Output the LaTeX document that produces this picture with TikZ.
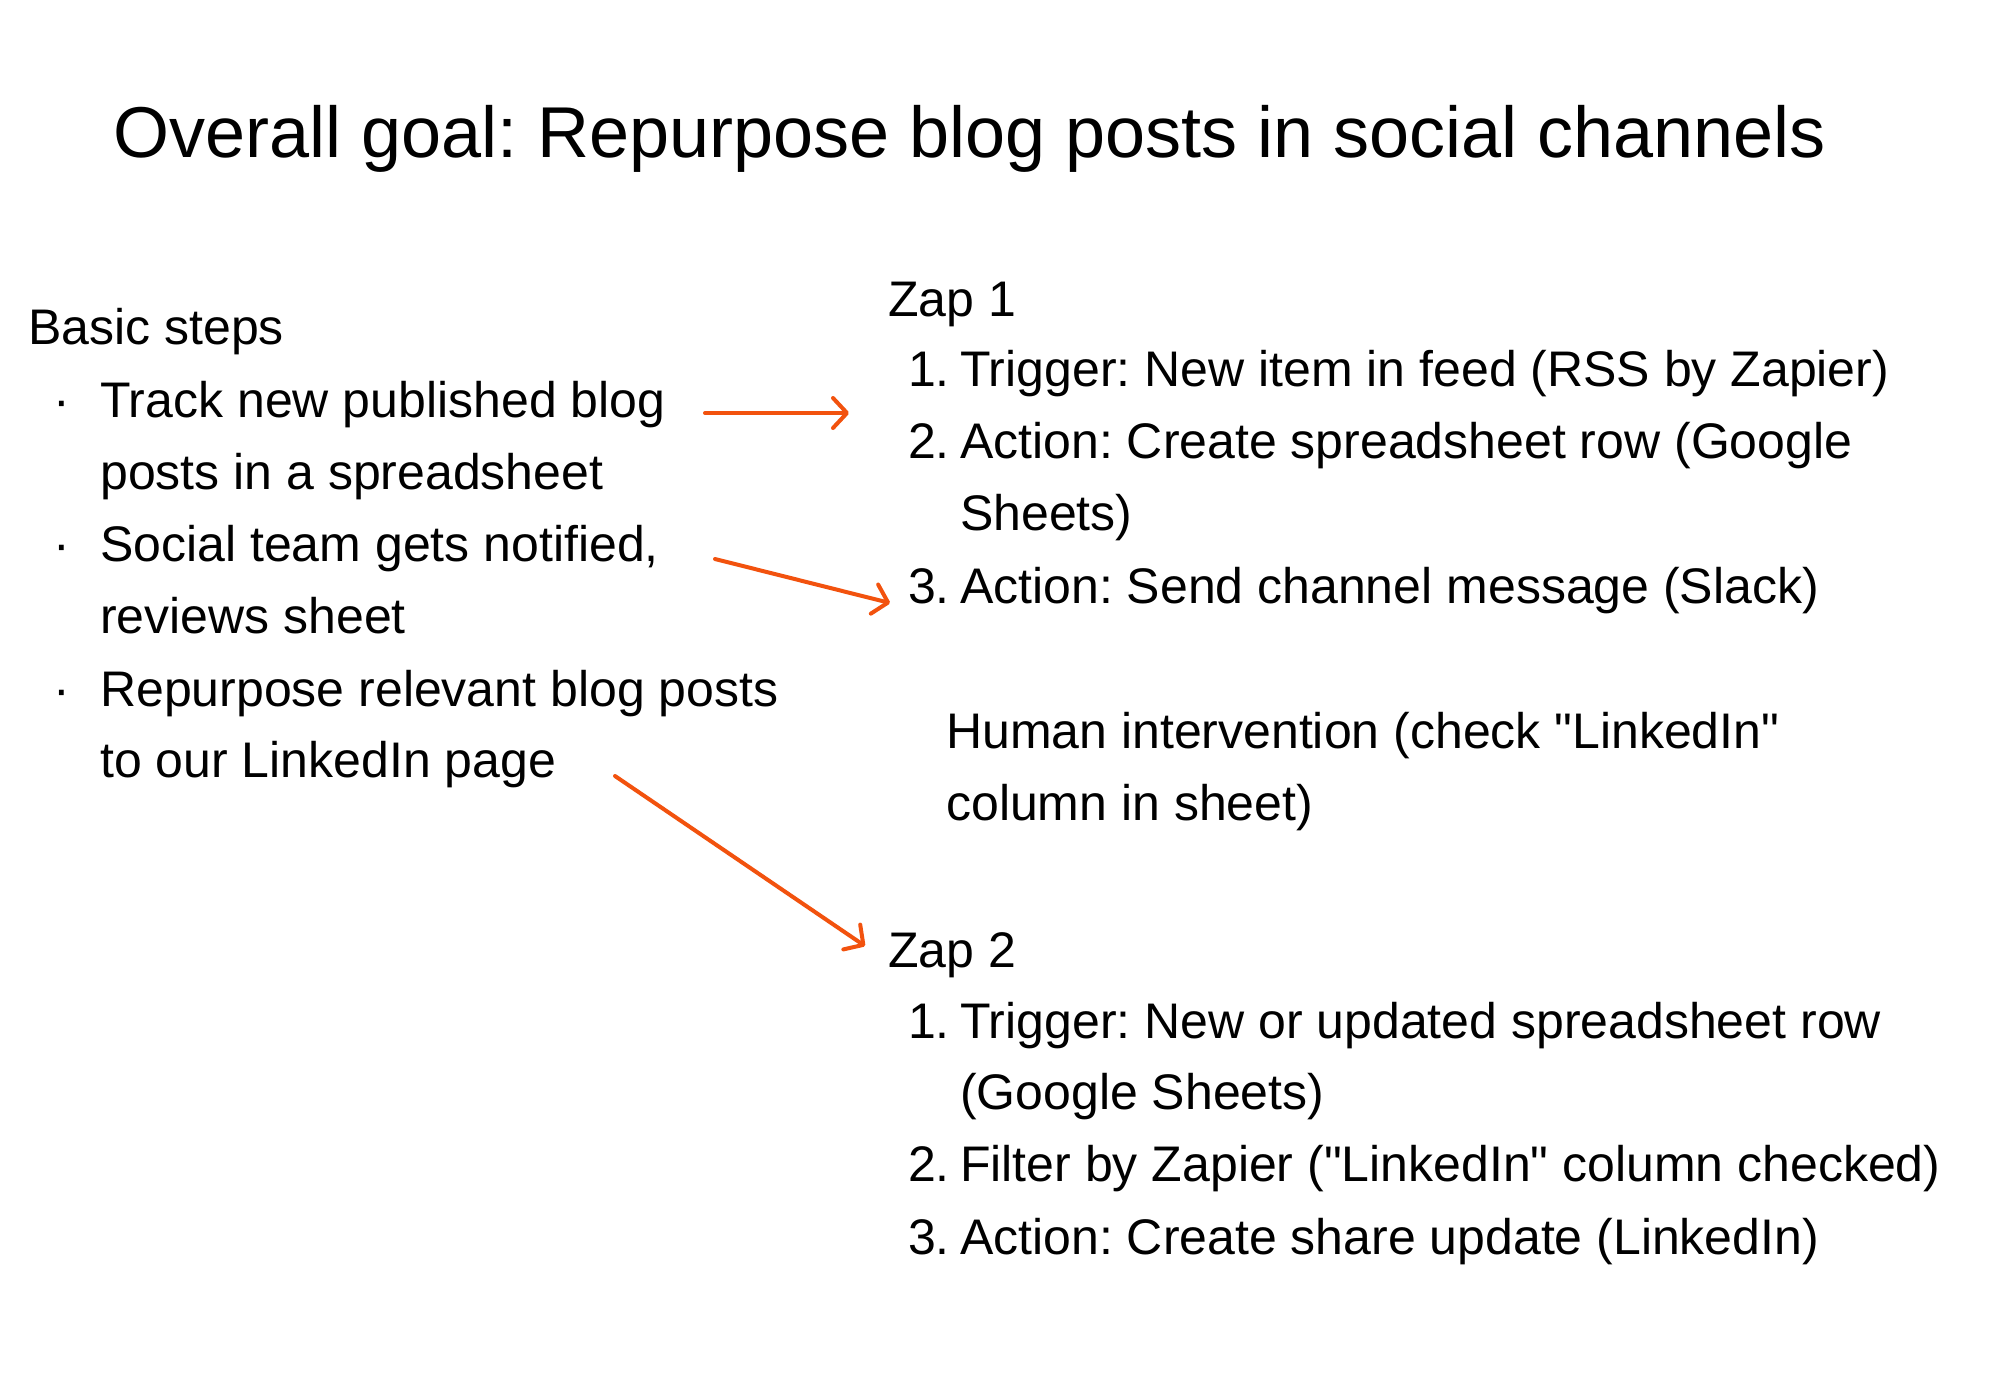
\documentclass[tikz,border=0pt]{standalone}
\usepackage{fontspec}
\setmainfont{Liberation Sans}
\usetikzlibrary{arrows.meta}
\definecolor{arrowc}{RGB}{242,82,14}
\frenchspacing
\begin{document}
\begin{tikzpicture}[x=1pt,y=-1pt,
  title/.style={anchor=base west,inner sep=0pt,font=\fontsize{72}{80}\selectfont},
  txt/.style={anchor=base west,inner sep=0pt,font=\fontsize{50}{60}\selectfont},
  num/.style={anchor=base east,inner sep=0pt,font=\fontsize{50}{60}\selectfont},
  bul/.style={anchor=base,inner sep=0pt,font=\fontsize{50}{60}\selectfont},
  link/.style={draw=arrowc,line width=4pt,line cap=round,
    -{Straight Barb[length=14pt,width=30pt,line width=4pt,round]}}]
\useasboundingbox[fill=white] (0,0) rectangle (2000,1400);
% title
\node[title] (t) at (113,157) {Overall goal: Repurpose blog posts in social channels};
% left column
\node[txt] (bs) at (28,344) {Basic steps};
\node[bul] (b1) at (62,417) {·};
\node[txt] (l1a) at (100,417) {Track new published blog};
\node[txt] (l1b) at (100,489) {posts in a spreadsheet};
\node[bul] (b2) at (62,561) {·};
\node[txt] (l2a) at (100,561) {Social team gets notified,};
\node[txt] (l2b) at (100,633) {reviews sheet};
\node[bul] (b3) at (62,706) {·};
\node[txt] (l3a) at (100,706) {Repurpose relevant blog posts};
\node[txt] (l3b) at (100,777) {to our LinkedIn page};
% Zap 1
\node[txt] (z1) at (888,316) {Zap 1};
\node[num] (n11) at (950,386) {1.};
\node[txt] (s11) at (960,386) {Trigger: New item in feed (RSS by Zapier)};
\node[num] (n12) at (950,458) {2.};
\node[txt] (s12a) at (960,458) {Action: Create spreadsheet row (Google};
\node[txt] (s12b) at (960,530) {Sheets)};
\node[num] (n13) at (950,603) {3.};
\node[txt] (s13) at (960,603) {Action: Send channel message (Slack)};
% human
\node[txt] (h1) at (946,748) {Human intervention (check \textquotedbl LinkedIn\textquotedbl};
\node[txt] (h2) at (946,820) {column in sheet)};
% Zap 2
\node[txt] (z2) at (888,967) {Zap 2};
\node[num] (n21) at (950,1038) {1.};
\node[txt] (s21a) at (960,1038) {Trigger: New or updated spreadsheet row};
\node[txt] (s21b) at (960,1109) {(Google Sheets)};
\node[num] (n22) at (950,1181) {2.};
\node[txt] (s22) at (960,1181) {Filter by Zapier (\textquotedbl LinkedIn\textquotedbl{} column checked)};
\node[num] (n23) at (950,1254) {3.};
\node[txt] (s23) at (960,1254) {Action: Create share update (LinkedIn)};
% arrows
\coordinate (a1s) at (705,413); \coordinate (a1e) at (849,413);
\coordinate (a2s) at (715,559); \coordinate (a2e) at (890,603);
\coordinate (a3s) at (615,776); \coordinate (a3e) at (865,946);
\draw[link] (a1s) -- (a1e);
\draw[link] (a2s) -- (a2e);
\draw[link] (a3s) -- (a3e);
\end{tikzpicture}
\end{document}
